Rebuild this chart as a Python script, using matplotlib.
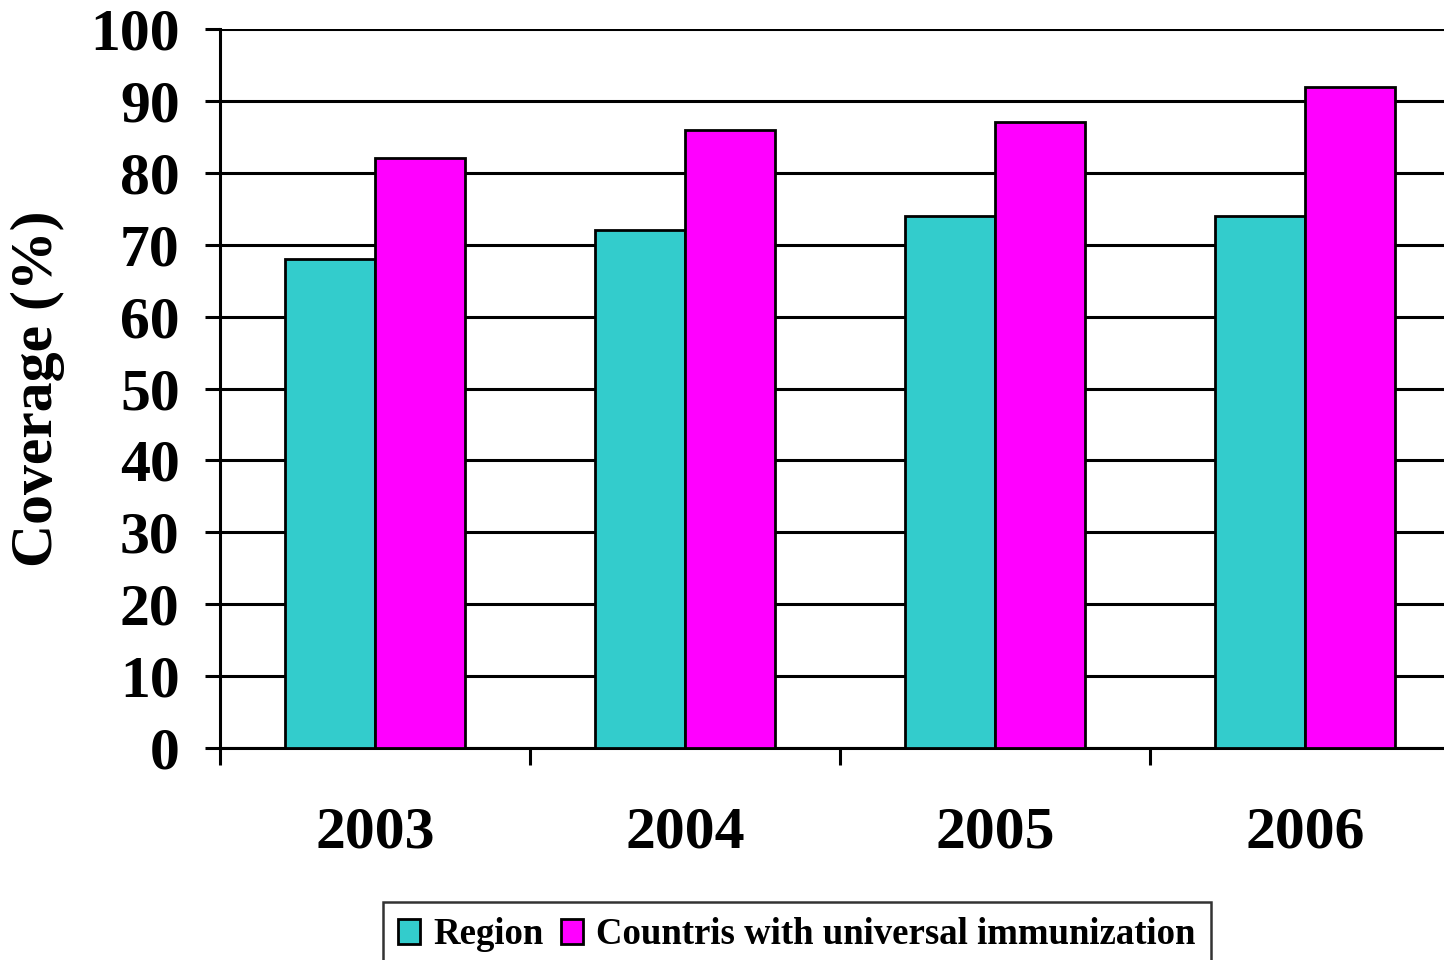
import matplotlib
matplotlib.use("Agg")
import matplotlib.pyplot as plt
import numpy as np

years = ["2003", "2004", "2005", "2006"]
region = [68, 72, 74, 74]
universal = [82, 86, 87, 92]
series_names = ["Region", "Countris with universal immunization"]
yticks = list(range(0, 101, 10))

plt.rcParams["font.family"] = ["Liberation Serif", "DejaVu Serif"]
plt.rcParams["font.weight"] = "bold"

W, H = 1444, 960
fig = plt.figure(figsize=(W / 100, H / 100), dpi=100)
left, right, top, bottom = 220, 1460, 29, 748
ax = fig.add_axes([left / W, 1 - bottom / H, (right - left) / W, (bottom - top) / H])

x = np.arange(len(years))
bw = 0.29
teal = "#33CCCC"
magenta = "#FF00FF"
ax.bar(x - bw / 2, region, bw, color=teal, edgecolor="black", linewidth=2, zorder=3,
       label=series_names[0])
ax.bar(x + bw / 2, universal, bw, color=magenta, edgecolor="black", linewidth=2, zorder=3,
       label=series_names[1])

ax.set_xlim(-0.5, len(years) - 0.5)
ax.set_ylim(0, 100)
ax.set_yticks(yticks)
ax.set_yticklabels([str(v) for v in yticks], fontsize=43, fontweight="bold")
ax.yaxis.grid(True, color="black", linewidth=2.2, zorder=0)
ax.set_axisbelow(True)

# category boundaries carry tick marks, labels sit at the centres
ax.set_xticks(np.arange(-0.5, len(years) - 0.5, 1.0))
ax.set_xticklabels([])
ax.set_xticks(x, minor=True)
ax.set_xticklabels(years, minor=True, fontsize=43, fontweight="bold")
ax.tick_params(axis="x", which="major", direction="out", length=12, width=2.2)
ax.tick_params(axis="x", which="minor", length=0, pad=42)
ax.tick_params(axis="y", direction="out", length=11, width=2.2, pad=18)

for s in ["top", "right"]:
    ax.spines[s].set_visible(False)
for s in ["left", "bottom"]:
    ax.spines[s].set_linewidth(2.2)

ax.set_ylabel("Coverage (%)", fontsize=43, fontweight="bold", labelpad=18)

leg = fig.legend(loc="upper center", bbox_to_anchor=(797 / W, 1 - 902 / H), ncol=2,
                 frameon=True, fancybox=False, edgecolor="black",
                 prop={"size": 26.5, "weight": "bold"}, handlelength=0.6, handleheight=0.65,
                 handletextpad=0.36, columnspacing=0.47, borderpad=0.42, borderaxespad=0)
leg.get_frame().set_linewidth(1.8)

fig.savefig("out.png", dpi=100)
